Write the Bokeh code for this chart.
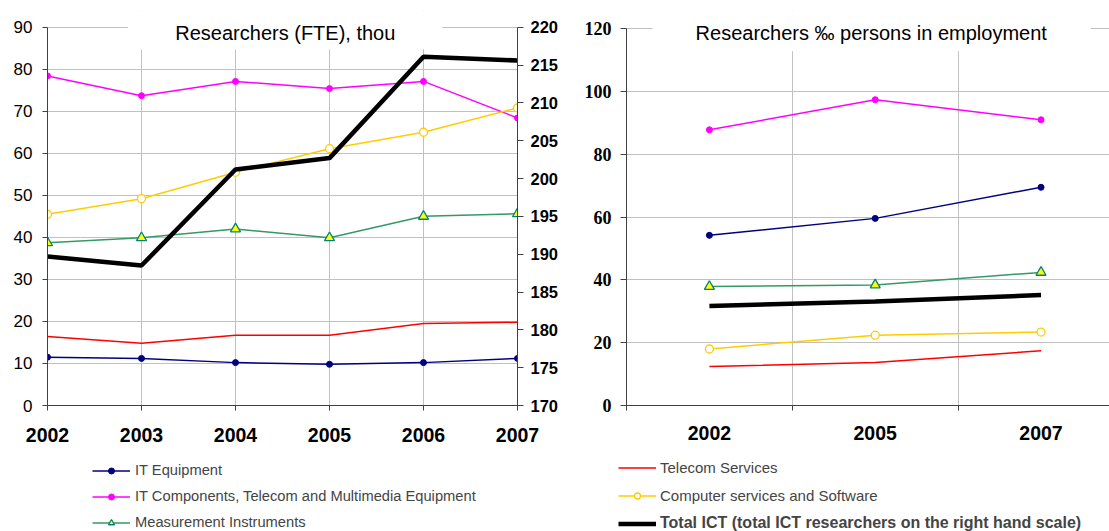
from bokeh.plotting import figure
from bokeh.layouts import row, column
from bokeh.models import (Range1d, LinearAxis, FixedTicker, Legend, LegendItem,
                          Label, BoxAnnotation)
from bokeh.embed import file_html
from bokeh.resources import INLINE

# ---------------- data: Researchers (FTE), thousands ----------------
years = [2002, 2003, 2004, 2005, 2006, 2007]
it_equipment = [11.5, 11.2, 10.2, 9.8, 10.2, 11.2]
it_components = [78.4, 73.7, 77.1, 75.4, 77.1, 68.4]
measurement = [38.7, 39.9, 42.0, 39.9, 45.0, 45.6]
telecom_services = [16.4, 14.8, 16.7, 16.7, 19.5, 19.8]
computer_services = [45.5, 49.2, 55.5, 61.1, 65.0, 70.8]
total_ict = [189.7, 188.5, 201.2, 202.7, 216.1, 215.6]   # right-hand scale

left_ticks = [0, 10, 20, 30, 40, 50, 60, 70, 80, 90]
right_ticks = [170, 175, 180, 185, 190, 195, 200, 205, 210, 215, 220]

# ---------------- data: Researchers per 1000 persons in employment ----------------
years_emp = ["2002", "2005", "2007"]
emp_it_equipment = [54.2, 59.6, 69.5]
emp_it_components = [87.8, 97.4, 91.0]
emp_measurement = [37.9, 38.4, 42.4]
emp_telecom = [12.4, 13.7, 17.4]
emp_computer = [18.0, 22.4, 23.4]
emp_total = [31.7, 33.1, 35.2]
emp_ticks = [0, 20, 40, 60, 80, 100, 120]

SANS = "Liberation Sans"
SERIF = "Liberation Serif"
GRID = "#C0C0C0"
AXIS = "#404040"
NAVY = "#000080"
MAGENTA = "#FF00FF"
GREEN = "#339966"
TEAL = "#008080"
YELLOW = "#FFFF00"
GOLD = "#FFCC00"
RED = "#FF0000"

# series styles (shared by chart and legend)
ST_EQ = dict(line_color=NAVY, line_width=1.5)
MK_EQ = dict(marker="circle", size=6, fill_color=NAVY, line_color=NAVY)
ST_COMP = dict(line_color=MAGENTA, line_width=1.5)
MK_COMP = dict(marker="circle", size=6, fill_color=MAGENTA, line_color=MAGENTA)
ST_MEAS = dict(line_color=GREEN, line_width=1.5)
MK_MEAS = dict(marker="triangle", size=10, fill_color=YELLOW, line_color=TEAL, line_width=1.3)
ST_TEL = dict(line_color=RED, line_width=1.5)
ST_CS = dict(line_color=GOLD, line_width=1.5)
MK_CS = dict(marker="circle", size=8, fill_color="white", line_color=GOLD, line_width=1.3)
ST_TOT = dict(line_color="black", line_width=4.5)


def style_axis(ax, font, size, bold, tick_out, standoff):
    ax.axis_line_color = AXIS
    ax.axis_line_width = 1
    ax.major_tick_line_color = AXIS
    ax.major_tick_in = 0
    ax.major_tick_out = tick_out
    ax.minor_tick_line_color = None
    ax.major_label_text_font = font
    ax.major_label_text_font_size = size
    ax.major_label_text_font_style = "bold" if bold else "normal"
    ax.major_label_text_color = "black"
    ax.major_label_standoff = standoff


def legend_fig(width, height):
    # a strip under a chart that only carries its legend; the series drawn in it
    # lie outside its (0..1) ranges, so only the legend samples show
    f = figure(width=width, height=height, x_range=Range1d(0, 1), y_range=Range1d(0, 1),
               output_backend="svg", toolbar_location=None,
               x_axis_location=None, y_axis_location=None,
               min_border_left=0, min_border_right=0, min_border_top=0, min_border_bottom=0)
    f.grid.visible = False
    f.outline_line_color = None
    f.background_fill_color = "white"
    f.border_fill_color = "white"
    return f


def legend(items, loc, font_size, bold, spacing, standoff):
    return Legend(items=items, location=loc, orientation="vertical",
                  label_text_font=SANS, label_text_font_size=font_size,
                  label_text_font_style="bold" if bold else "normal",
                  glyph_width=38, glyph_height=15, label_height=20, spacing=spacing,
                  label_standoff=standoff, padding=0, margin=0,
                  border_line_color=None, background_fill_alpha=0)


# ======================= left chart =======================
p1 = figure(width=575, height=452, x_range=Range1d(2002, 2007), y_range=Range1d(0, 93.97),
            output_backend="svg", toolbar_location=None,
            min_border_left=47, min_border_right=58, min_border_top=10, min_border_bottom=47)
p1.outline_line_color = None
p1.background_fill_color = "white"
p1.border_fill_color = "white"
p1.extra_y_ranges = {"total": Range1d(170, 222.21)}

p1.xaxis.ticker = FixedTicker(ticks=years)
style_axis(p1.xaxis[0], SANS, "19.5px", True, 5, 17)
p1.yaxis.ticker = FixedTicker(ticks=left_ticks)
p1.yaxis.bounds = (left_ticks[0], left_ticks[-1])
style_axis(p1.yaxis[0], SANS, "17px", False, 5, 10)

rax = LinearAxis(y_range_name="total", ticker=FixedTicker(ticks=right_ticks),
                 bounds=(right_ticks[0], right_ticks[-1]))
style_axis(rax, SANS, "16.5px", True, 6, 7)
p1.add_layout(rax, "right")

p1.xgrid.ticker = FixedTicker(ticks=years[1:-1])
p1.xgrid.grid_line_color = GRID
p1.ygrid.grid_line_color = GRID
p1.ygrid.ticker = FixedTicker(ticks=left_ticks)

p1.line(years, it_equipment, **ST_EQ)
p1.scatter(years, it_equipment, **MK_EQ)
p1.line(years, it_components, **ST_COMP)
p1.scatter(years, it_components, **MK_COMP)
p1.line(years, measurement, **ST_MEAS)
p1.line(years, telecom_services, **ST_TEL)
p1.line(years, computer_services, **ST_CS)
p1.scatter(years, computer_services, **MK_CS)
p1.line(years, total_ict, y_range_name="total", **ST_TOT)
p1.scatter(years, measurement, **MK_MEAS)

p1.add_layout(BoxAnnotation(left=2002.855, right=2006.2, bottom=84.7, fill_color="white",
                            fill_alpha=1.0, line_color=None))
p1.add_layout(Label(x=2004.53, y=90, text="Researchers (FTE), thou", text_align="center",
                    text_baseline="alphabetic", y_offset=-5.6, text_font=SANS,
                    text_font_size="20px", text_color="black"))

L1 = legend_fig(575, 79)
g_eq = [L1.line(years, it_equipment, **ST_EQ), L1.scatter(years, it_equipment, **MK_EQ)]
g_comp = [L1.line(years, it_components, **ST_COMP), L1.scatter(years, it_components, **MK_COMP)]
g_meas = [L1.line(years, measurement, **ST_MEAS), L1.scatter(years, measurement, **MK_MEAS)]
L1.add_layout(legend([LegendItem(label="IT Equipment", renderers=g_eq),
                      LegendItem(label="IT Components, Telecom and Multimedia Equipment",
                                 renderers=g_comp),
                      LegendItem(label="Measurement Instruments", renderers=g_meas)],
                     (92, -1), "14.7px", False, 6, 5))

# ======================= right chart =======================
xs_emp = [i + 0.5 for i in range(len(years_emp))]
bounds = list(range(len(years_emp) + 1))

p2 = figure(width=534, height=452, x_range=Range1d(0, 2.913), y_range=Range1d(0, 125.81),
            output_backend="svg", toolbar_location=None,
            min_border_left=51, min_border_right=0, min_border_top=10, min_border_bottom=46)
p2.outline_line_color = None
p2.background_fill_color = "white"
p2.border_fill_color = "white"

p2.xaxis.ticker = FixedTicker(ticks=xs_emp, minor_ticks=bounds)
p2.xaxis.major_label_overrides = {x: y for x, y in zip(xs_emp, years_emp)}
style_axis(p2.xaxis[0], SANS, "19.5px", True, 0, 15)
p2.xaxis.minor_tick_line_color = AXIS
p2.xaxis.minor_tick_in = 0
p2.xaxis.minor_tick_out = 5
p2.yaxis.ticker = FixedTicker(ticks=emp_ticks)
p2.yaxis.bounds = (emp_ticks[0], emp_ticks[-1])
style_axis(p2.yaxis[0], SERIF, "18px", True, 6, 9)

p2.xgrid.ticker = FixedTicker(ticks=bounds[1:-1])
p2.xgrid.grid_line_color = GRID
p2.ygrid.ticker = FixedTicker(ticks=emp_ticks)
p2.ygrid.grid_line_color = GRID

p2.line(xs_emp, emp_it_equipment, **ST_EQ)
p2.scatter(xs_emp, emp_it_equipment, **MK_EQ)
p2.line(xs_emp, emp_it_components, **ST_COMP)
p2.scatter(xs_emp, emp_it_components, **MK_COMP)
p2.line(xs_emp, emp_measurement, **ST_MEAS)
p2.scatter(xs_emp, emp_measurement, **MK_MEAS)
p2.line(xs_emp, emp_telecom, **ST_TEL)
p2.line(xs_emp, emp_computer, **ST_CS)
p2.scatter(xs_emp, emp_computer, **MK_CS)
p2.line(xs_emp, emp_total, **ST_TOT)

p2.add_layout(BoxAnnotation(left=0.157, right=2.80, bottom=112.8, fill_color="white",
                            fill_alpha=1.0, line_color=None))
p2.add_layout(Label(x=1.476, y=120, text="Researchers \u2030 persons in employment",
                    text_align="center", text_baseline="alphabetic", y_offset=-4.0,
                    text_font=SANS, text_font_size="20px", text_color="black"))

L2 = legend_fig(534, 79)
g_tel = [L2.line(xs_emp, emp_telecom, **ST_TEL)]
g_cs = [L2.line(xs_emp, emp_computer, **ST_CS), L2.scatter(xs_emp, emp_computer, **MK_CS)]
g_tot = [L2.line(xs_emp, emp_total, **ST_TOT)]
L2.add_layout(legend([LegendItem(label="Telecom Services", renderers=g_tel),
                      LegendItem(label="Computer services and Software", renderers=g_cs)],
                     (43, 26), "15px", False, 8, 4))
L2.add_layout(legend([LegendItem(label="Total ICT (total ICT researchers on the right hand scale)",
                                 renderers=g_tot)],
                     (43, -2), "16px", True, 0, 4))

layout = column(row(p1, p2), row(L1, L2))
open("out.html", "w").write(file_html(layout, INLINE))
